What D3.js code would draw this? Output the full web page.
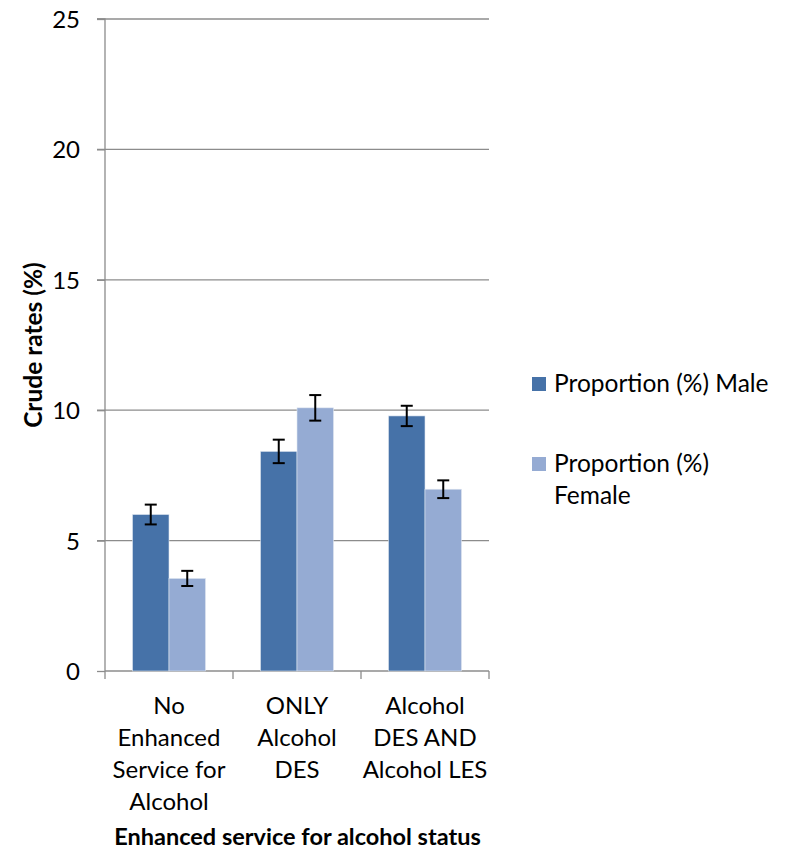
<!DOCTYPE html>
<html><head><meta charset="utf-8">
<script src="https://cdn.jsdelivr.net/npm/d3@7"></script>
<style>body{margin:0;background:#fff}svg{display:block}text{font-family:Lato,"Open Sans",sans-serif;fill:#000}</style>
</head><body>
<svg id="c" width="786" height="852"></svg>
<script>
const categories = [["No","Enhanced","Service for","Alcohol"],["ONLY","Alcohol","DES"],["Alcohol","DES AND","Alcohol LES"]];
const categoryKeys = ["No Enhanced Service for Alcohol","ONLY Alcohol DES","Alcohol DES AND Alcohol LES"];
const seriesNames = ["Proportion (%) Male","Proportion (%) Female"];
const maleValues = [6.0, 8.42, 9.78];
const femaleValues = [3.55, 10.09, 6.97];
const maleErr = [0.38, 0.45, 0.39];
const femaleErr = [0.29, 0.49, 0.34];
const yTicks = [0,5,10,15,20,25];
const colors = ["#4672A8","#95ABD3"];

(function(){
const svg = d3.select("#c");
const pL = 105, pR = 489, pT = 19, pB = 671;
const fs = "24px";
const y = d3.scaleLinear().domain([0,25]).range([pB, pT]);
const x = d3.scaleBand().domain(categoryKeys).range([pL, pR]).paddingInner(0).paddingOuter(0);
const bw = 36.5;

// gridlines
svg.append("g").selectAll("line").data(yTicks.filter(d=>d>0)).join("line")
  .attr("x1", pL-8).attr("x2", pR).attr("y1", d=>y(d)).attr("y2", d=>y(d))
  .attr("stroke","#8c8c8c").attr("stroke-width",1.3);

// y axis
const ya = svg.append("g").attr("transform",`translate(${pL},0)`)
  .call(d3.axisLeft(y).tickValues(yTicks).tickSize(8).tickPadding(17).tickFormat(d3.format("d")));
ya.select(".domain").attr("stroke","#8c8c8c").attr("stroke-width",1.3).attr("d",`M-8,${pT}H0V${pB}`);
ya.selectAll(".tick line").attr("stroke","#8c8c8c").attr("stroke-width",1.3);
ya.selectAll(".tick text").style("font-size",fs).attr("dy","0.35em").style("font-family","Lato");

// x axis
svg.append("line").attr("x1",pL).attr("x2",pR).attr("y1",pB).attr("y2",pB).attr("stroke","#8c8c8c").attr("stroke-width",1.3);
const xt = [pL, ...categoryKeys.map(k=>x(k)+x.bandwidth())];
svg.append("g").selectAll("line").data(xt).join("line")
  .attr("x1",d=>d).attr("x2",d=>d).attr("y1",pB).attr("y2",pB+8)
  .attr("stroke","#8c8c8c").attr("stroke-width",1.3);

// bars
const data = categoryKeys.map((k,i)=>({k, vals:[{v:maleValues[i],e:maleErr[i],s:0},{v:femaleValues[i],e:femaleErr[i],s:1}]}));
const g = svg.append("g");
data.forEach(d=>{
  const cx = x(d.k) + x.bandwidth()/2;
  d.vals.forEach(v=>{
    const x0 = v.s===0 ? cx-bw : cx;
    g.append("rect").attr("x",x0).attr("width",bw).attr("y",y(v.v)).attr("height",y(0)-y(v.v))
      .attr("fill",colors[v.s]).attr("stroke","#dfe6f0").attr("stroke-width",0.6);
  });
});
// error bars
data.forEach(d=>{
  const cx = x(d.k) + x.bandwidth()/2;
  d.vals.forEach(v=>{
    const ex = v.s===0 ? cx-bw/2 : cx+bw/2;
    const eg = g.append("g").attr("stroke","#000").attr("stroke-width",2);
    eg.append("line").attr("x1",ex).attr("x2",ex).attr("y1",y(v.v+v.e)).attr("y2",y(v.v-v.e));
    eg.append("line").attr("x1",ex-6).attr("x2",ex+6).attr("y1",y(v.v+v.e)).attr("y2",y(v.v+v.e));
    eg.append("line").attr("x1",ex-6).attr("x2",ex+6).attr("y1",y(v.v-v.e)).attr("y2",y(v.v-v.e));
  });
});

// category labels
categories.forEach((lines,i)=>{
  const cx = x(categoryKeys[i]) + x.bandwidth()/2;
  const t = svg.append("text").attr("text-anchor","middle").style("font-size",fs);
  lines.forEach((l,j)=>t.append("tspan").attr("x",cx).attr("y",714+j*32).text(l));
});

// axis titles
svg.append("text").attr("x",297.5).attr("y",845).attr("text-anchor","middle")
  .style("font-size","23.5px").style("font-weight","bold").text("Enhanced service for alcohol status");
svg.append("text").attr("transform","translate(42,345) rotate(-90)").attr("text-anchor","middle")
  .style("font-size","24.5px").style("font-weight","bold").text("Crude rates (%)");

// legend
const leg = svg.append("g");
leg.append("rect").attr("x",532).attr("y",377).attr("width",14).attr("height",14).attr("fill",colors[0]);
leg.append("text").attr("x",554).attr("y",392).style("font-size","24.5px").text(seriesNames[0]);
leg.append("rect").attr("x",532).attr("y",457).attr("width",14).attr("height",14).attr("fill",colors[1]);
const lt = leg.append("text").style("font-size","24.5px");
lt.append("tspan").attr("x",554).attr("y",472).text("Proportion (%)");
lt.append("tspan").attr("x",554).attr("y",504).text("Female");
})();
</script>
</body></html>
